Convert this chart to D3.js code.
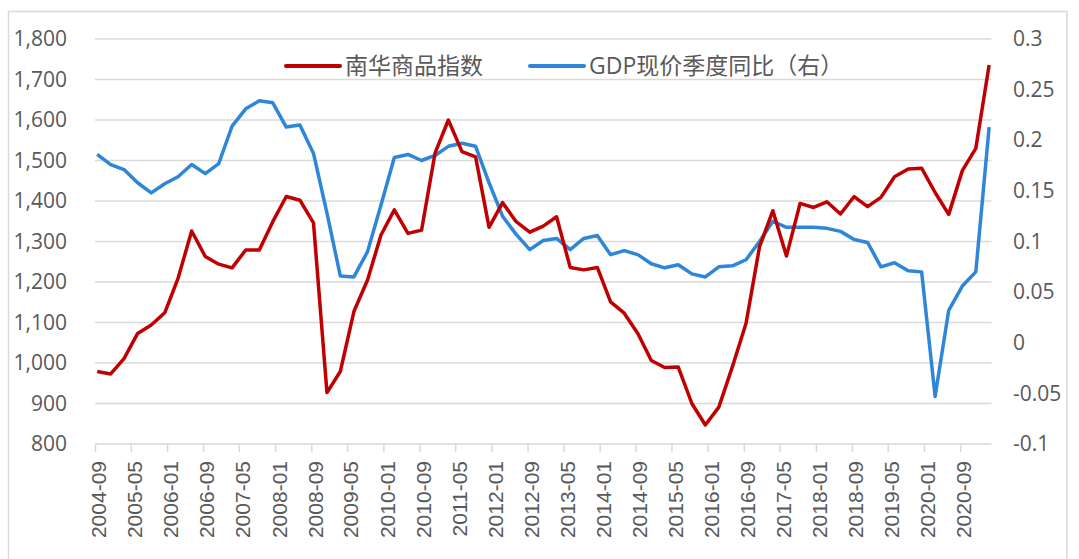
<!DOCTYPE html>
<html>
<head>
  <meta charset="utf-8">
  <title>南华商品指数 vs GDP</title>
  <style>
    body { margin: 0; background: #fff; }
    svg text { fill: #595959; }
    .ytick { font-family: "Open Sans", "Noto Sans", sans-serif; font-size: 21px; }
    .xtick { font-family: "Liberation Sans", Arial, sans-serif; font-size: 21px; }
    .legend { font-family: "Open Sans", "Noto Sans CJK SC", sans-serif; font-size: 23px; }
  </style>
</head>
<body>
<svg width="1079" height="559"></svg>
<script src="https://d3js.org/d3.v7.min.js"></script>
<script>

  // quarterly observations
  var quarters = [
    '2004-09', '2004-12',
    '2005-03', '2005-06', '2005-09', '2005-12',
    '2006-03', '2006-06', '2006-09', '2006-12',
    '2007-03', '2007-06', '2007-09', '2007-12',
    '2008-03', '2008-06', '2008-09', '2008-12',
    '2009-03', '2009-06', '2009-09', '2009-12',
    '2010-03', '2010-06', '2010-09', '2010-12',
    '2011-03', '2011-06', '2011-09', '2011-12',
    '2012-03', '2012-06', '2012-09', '2012-12',
    '2013-03', '2013-06', '2013-09', '2013-12',
    '2014-03', '2014-06', '2014-09', '2014-12',
    '2015-03', '2015-06', '2015-09', '2015-12',
    '2016-03', '2016-06', '2016-09', '2016-12',
    '2017-03', '2017-06', '2017-09', '2017-12',
    '2018-03', '2018-06', '2018-09', '2018-12',
    '2019-03', '2019-06', '2019-09', '2019-12',
    '2020-03', '2020-06', '2020-09', '2020-12',
    '2021-03'
  ]

  // 南华商品指数 (left axis)
  var nanhua = [
    979, 973,
    1011, 1073, 1094, 1124,
    1209, 1326, 1263, 1244,
    1235, 1279, 1279, 1349,
    1411, 1402, 1346, 927,
    979, 1127, 1205, 1316,
    1378, 1320, 1328, 1518,
    1600, 1522, 1509, 1335,
    1396, 1349, 1323, 1338,
    1361, 1236, 1230, 1236,
    1151, 1123, 1073, 1006,
    989, 990, 900, 847,
    891, 991, 1098, 1287,
    1376, 1264, 1394, 1384,
    1398, 1368, 1411, 1386,
    1409, 1460, 1479, 1481,
    1421, 1367, 1475, 1530,
    1736
  ]

  // GDP现价季度同比 (right axis)
  var gdp = [
    0.186, 0.176,
    0.171, 0.158, 0.148, 0.157,
    0.164, 0.176, 0.167, 0.177,
    0.214, 0.231, 0.239, 0.237,
    0.213, 0.215, 0.187, 0.128,
    0.066, 0.065, 0.090, 0.136,
    0.183, 0.186, 0.180, 0.185,
    0.194, 0.197, 0.194, 0.158,
    0.125, 0.107, 0.092, 0.101,
    0.103, 0.092, 0.103, 0.106,
    0.087, 0.091, 0.087, 0.078,
    0.074, 0.077, 0.068, 0.065,
    0.075, 0.076, 0.082, 0.100,
    0.120, 0.114, 0.114, 0.114,
    0.113, 0.110, 0.102, 0.099,
    0.075, 0.079, 0.071, 0.070,
    -0.053, 0.032, 0.056, 0.070,
    0.213
  ]

  var xTickLabels = [
    '2004-09', '2005-05', '2006-01', '2006-09', '2007-05', '2008-01', '2008-09',
    '2009-05', '2010-01', '2010-09', '2011-05', '2012-01', '2012-09', '2013-05',
    '2014-01', '2014-09', '2015-05', '2016-01', '2016-09', '2017-05', '2018-01',
    '2018-09', '2019-05', '2020-01', '2020-09'
  ]

  var leftTicks = [800, 900, 1000, 1100, 1200, 1300, 1400, 1500, 1600, 1700, 1800]
  var rightTicks = [-0.1, -0.05, 0, 0.05, 0.1, 0.15, 0.2, 0.25, 0.3]

  var seriesNames = ['南华商品指数', 'GDP现价季度同比（右）']
  var colors = ['#C00000', '#2E86D8']

  var svg = d3.select('svg')
  var parseMonth = d3.timeParse('%Y-%m')

  var plot = {left: 95, right: 991.5, top: 39, bottom: 444}

  // chart border
  svg.append('rect')
    .attr('x', 8.5).attr('y', 11.5)
    .attr('width', 1058.5).attr('height', 600)
    .attr('fill', 'none')
    .attr('stroke', '#d9d9d9')
    .attr('stroke-width', 1.5)

  var x = d3.scaleTime()
    .domain([parseMonth('2004-09'), parseMonth('2021-04')])
    .range([plot.left, plot.right])

  var y = d3.scaleLinear().domain([800, 1800]).range([plot.bottom, plot.top])
  var y2 = d3.scaleLinear().domain([-0.1, 0.3]).range([plot.bottom, plot.top])

  // points sit in the middle of their month
  function mid(s) {
    var d = parseMonth(s)
    return new Date(d.getFullYear(), d.getMonth(), 16)
  }

  // gridlines
  svg.append('g')
    .selectAll('line')
    .data(leftTicks.slice(1))
    .enter().append('line')
    .attr('x1', plot.left).attr('x2', plot.right)
    .attr('y1', function (d) { return y(d) })
    .attr('y2', function (d) { return y(d) })
    .attr('stroke', '#d9d9d9')
    .attr('stroke-width', 1.5)

  // left axis
  var yAxis = svg.append('g')
    .attr('transform', 'translate(67,0)')
    .call(d3.axisLeft(y).tickValues(leftTicks).tickSize(0).tickPadding(0).tickFormat(d3.format(',')))
  yAxis.select('.domain').remove()
  yAxis.selectAll('text').attr('class', 'ytick').attr('fill', '#595959')
    .style('font-family', '"Open Sans", "Noto Sans", sans-serif').style('font-size', '21px')

  // right axis
  var y2Axis = svg.append('g')
    .attr('transform', 'translate(1013,0)')
    .call(d3.axisRight(y2).tickValues(rightTicks).tickSize(0).tickPadding(0).tickFormat(function (d) { return String(+d.toFixed(2)) }))
  y2Axis.select('.domain').remove()
  y2Axis.selectAll('text').attr('class', 'ytick').attr('fill', '#595959')
    .style('font-family', '"Open Sans", "Noto Sans", sans-serif').style('font-size', '21px')

  // bottom axis
  var xAxis = svg.append('g')
    .attr('transform', 'translate(0,' + plot.bottom + ')')
    .call(d3.axisBottom(x).tickValues(xTickLabels.map(parseMonth)).tickSize(8).tickFormat(d3.timeFormat('%Y-%m')))
  xAxis.select('.domain')
    .attr('d', 'M' + plot.left + ',0H' + plot.right)
    .attr('stroke', '#d9d9d9').attr('stroke-width', 1.5)
  xAxis.selectAll('.tick line').attr('stroke', '#d9d9d9').attr('stroke-width', 1.5)
  xAxis.selectAll('.tick text')
    .attr('class', 'xtick')
    .attr('fill', '#595959')
    .style('font-family', '"Liberation Sans", Arial, sans-serif')
    .style('font-size', '21px')
    .attr('text-anchor', 'end')
    .attr('transform', 'rotate(-90)')
    .attr('x', -17).attr('y', 3.5).attr('dy', '0.35em')

  // lines
  var line1 = d3.line()
    .x(function (d, i) { return x(mid(quarters[i])) })
    .y(function (d) { return y(d) })
  var line2 = d3.line()
    .x(function (d, i) { return x(mid(quarters[i])) })
    .y(function (d) { return y2(d) })

  svg.append('path')
    .datum(gdp)
    .attr('fill', 'none')
    .attr('stroke', colors[1])
    .attr('stroke-width', 3.5)
    .attr('stroke-linejoin', 'round')
    .attr('d', line2)

  svg.append('path')
    .datum(nanhua)
    .attr('fill', 'none')
    .attr('stroke', colors[0])
    .attr('stroke-width', 3.5)
    .attr('stroke-linejoin', 'round')
    .attr('d', line1)

  // legend
  var legendX = [286, 530]
  seriesNames.forEach(function (name, i) {
    var g = svg.append('g').attr('transform', 'translate(' + legendX[i] + ',66)')
    g.append('line')
      .attr('x1', 0).attr('x2', 54)
      .attr('stroke', colors[i]).attr('stroke-width', 4).attr('stroke-linecap', 'round')
    g.append('text')
      .attr('class', 'legend')
      .attr('x', 59).attr('dy', '0.36em')
      .text(name)
  })

</script>
</body>
</html>
